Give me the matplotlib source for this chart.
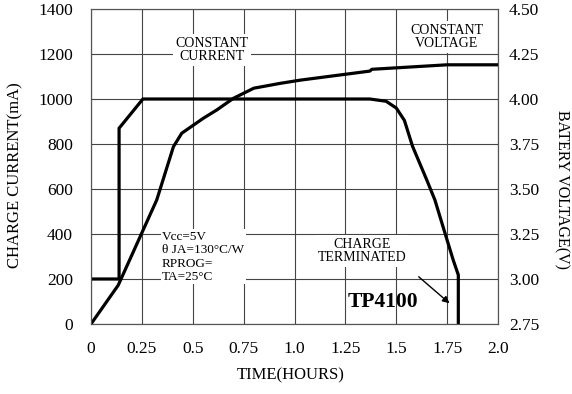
import matplotlib.pyplot as plt

plt.rcParams['font.family'] = ['Liberation Serif', 'DejaVu Serif']

# charge current curve (left axis)
time_i = [0, 0.138, 0.138, 0.255, 1.37, 1.45, 1.50, 1.54, 1.58, 1.65, 1.69, 1.73, 1.78, 1.805, 1.805]
current = [200, 200, 870, 1000, 1000, 990, 960, 905, 790, 640, 551, 432, 284, 218, 0]

# battery voltage curve (right axis)
time_v = [0, 0.134, 0.249, 0.323, 0.405, 0.446, 0.552, 0.618, 0.70, 0.80, 0.93, 1.03, 1.37, 1.38, 1.75, 2.0]
volt = [2.75, 2.966, 3.254, 3.439, 3.735, 3.81, 3.893, 3.939, 4.004, 4.06, 4.087, 4.105, 4.155, 4.165, 4.19, 4.19]

x_ticks = [0, 0.25, 0.5, 0.75, 1.0, 1.25, 1.5, 1.75, 2.0]
x_labels = ['0', '0.25', '0.5', '0.75', '1.0', '1.25', '1.5', '1.75', '2.0']
i_ticks = [0, 200, 400, 600, 800, 1000, 1200, 1400]
v_ticks = [2.75, 3.00, 3.25, 3.50, 3.75, 4.00, 4.25, 4.50]

fig = plt.figure(figsize=(5.72, 3.94), dpi=100)
ax = fig.add_axes([91/572, 1-324/394, (498-91)/572, (324-9)/394])
ax2 = ax.twinx()

ax.set_xlim(0, 2.0)
ax.set_ylim(0, 1400)
ax2.set_ylim(2.75, 4.5)

ax.set_xticks(x_ticks)
ax.set_xticklabels(x_labels)
ax.set_yticks(i_ticks)
ax2.set_yticks(v_ticks)
ax2.set_yticklabels(['%.2f' % v for v in v_ticks])

ax.tick_params(length=0, pad=13, labelsize=12.5)
ax.tick_params(axis='x', pad=12)
ax2.tick_params(length=0, pad=8, labelsize=12.5)

ax.grid(True, color='#444444', lw=0.8)
for a in (ax, ax2):
    for s in a.spines.values():
        s.set_color('#555555')
        s.set_linewidth(0.8)

ax.plot(time_i, current, color='black', lw=2.3, solid_joinstyle='miter')
ax2.plot(time_v, volt, color='black', lw=2.3)

# axis titles
fig.text(15/572, 1-175/394, 'CHARGE CURRENT(mA)', fontsize=12, rotation=90,
         ha='center', va='center')
fig.text(562/572, 1-189/394, 'BATERY VOLTAGE(V)', fontsize=11.5, rotation=-90,
         ha='center', va='center')
fig.text(291/572, 1-375/394, 'TIME(HOURS)', fontsize=12, ha='center', va='center')

box = dict(facecolor='white', edgecolor='none', pad=2)
ax.text(0.595, 1218, 'CONSTANT\nCURRENT', fontsize=10, ha='center', va='center',
        linespacing=1.05, bbox=box)
ax.text(1.748, 1276, 'CONSTANT\nVOLTAGE', fontsize=10, ha='center', va='center',
        linespacing=1.05, bbox=box)
ax.text(1.33, 324, 'CHARGE\nTERMINATED', fontsize=10, ha='center', va='center',
        linespacing=1.05, bbox=box)
ax.text(0.349, 298, 'Vcc=5V\n\u03b8 JA=130\u00b0C/W\nRPROG=\nTA=25\u00b0C', fontsize=9.5,
        ha='left', va='center', linespacing=1.15,
        bbox=dict(facecolor='white', edgecolor='none', pad=1))
ax.text(1.263, 99, 'TP4100', fontsize=15.5, fontweight='bold', ha='left', va='center')
ax.annotate('', xy=(1.772, 84), xytext=(1.60, 218),
            arrowprops=dict(arrowstyle='-|>', color='black', lw=1.0, mutation_scale=10))

fig.savefig('out.png', dpi=100)
